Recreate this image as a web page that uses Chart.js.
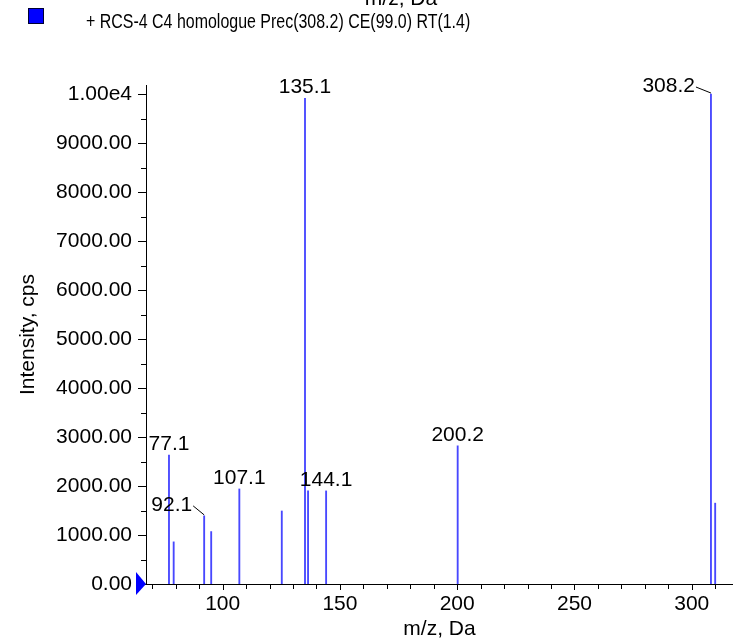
<!DOCTYPE html>
<html>
<head>
<meta charset="utf-8">
<script src="https://cdn.jsdelivr.net/npm/chart.js@4.4.1/dist/chart.umd.min.js"></script>
<style>
  html, body { margin: 0; padding: 0; background: #fff; }
  #wrap { width: 733px; height: 641px; }
</style>
</head>
<body>
<div id="wrap"><canvas id="spec" width="733" height="641"></canvas></div>
<script>
// ===== DATA =====
const mzValues = [77.1, 79.1, 92.1, 95.1, 107.1, 125.2, 135.1, 136.4, 144.1, 200.2, 308.2, 310.0];
const intensities = [2630, 860, 1390, 1070, 1940, 1490, 9910, 1900, 1900, 2820, 10000, 1650];
const labeledPeaks = [77.1, 92.1, 107.1, 135.1, 144.1, 200.2, 308.2];
const xTickValues = [100, 150, 200, 250, 300];
const yTickValues = [0, 1000, 2000, 3000, 4000, 5000, 6000, 7000, 8000, 9000, 10000];
const seriesName = '+ RCS-4 C4 homologue Prec(308.2) CE(99.0) RT(1.4)';
const xTitle = 'm/z, Da';
const yTitle = 'Intensity, cps';

const FONT = '"Liberation Sans", Arial, sans-serif';
const FSIZE = 21;
const BLUE = '#0000ff';

// label placement tweaks (style only)
const labelShift = {
  '92.1': { dx: -12, dy: -5 },
  '308.2': { dx: -16, dy: -2 }
};

// ===== PLUGIN: minor ticks, peak labels, legend =====
const specDecor = {
  id: 'specDecor',
  afterDatasetsDraw(chart) {
    const { ctx, scales: { x, y }, chartArea } = chart;
    ctx.save();
    ctx.strokeStyle = '#000';
    ctx.lineWidth = 1;

    // y ticks (major 1000, minor 500)
    for (let v = 0; v <= 10000; v += 500) {
      const py = Math.round(y.getPixelForValue(v)) + 0.5;
      const len = v % 1000 === 0 ? 8 : 5;
      ctx.beginPath();
      ctx.moveTo(chartArea.left - len, py);
      ctx.lineTo(chartArea.left, py);
      ctx.stroke();
    }
    // x ticks (major 50, minor 10)
    for (let v = 70; v <= x.max; v += 10) {
      const px = Math.round(x.getPixelForValue(v)) + 0.5;
      const len = v % 50 === 0 ? 6 : 5;
      ctx.beginPath();
      ctx.moveTo(px, chartArea.bottom);
      ctx.lineTo(px, chartArea.bottom + len);
      ctx.stroke();
    }

    // peak labels
    ctx.fillStyle = '#000';
    ctx.font = FSIZE + 'px ' + FONT;
    labeledPeaks.forEach(mz => {
      const i = mzValues.indexOf(mz);
      const px = x.getPixelForValue(mz);
      const py = y.getPixelForValue(intensities[i]);
      const key = mz.toFixed(1);
      const s = labelShift[key];
      if (s) {
        ctx.textAlign = 'right';
        ctx.fillText(key, px + s.dx, py + s.dy);
        ctx.beginPath();
        ctx.moveTo(px + s.dx + 1, py + s.dy - 5);
        ctx.lineTo(px, py - 1);
        ctx.stroke();
      } else {
        ctx.textAlign = 'center';
        ctx.fillText(key, px, py - 5);
      }
    });

    // blue marker at origin
    const y0 = y.getPixelForValue(0);
    ctx.fillStyle = BLUE;
    ctx.beginPath();
    ctx.moveTo(chartArea.left - 10, y0 - 12);
    ctx.lineTo(chartArea.left, y0);
    ctx.lineTo(chartArea.left - 10, y0 + 11);
    ctx.closePath();
    ctx.fill();

    // legend (condensed text)
    ctx.fillStyle = BLUE;
    ctx.fillRect(28, 8, 16, 16);
    ctx.strokeStyle = '#000033';
    ctx.strokeRect(28.5, 8.5, 15, 15);
    ctx.fillStyle = '#000';
    ctx.textAlign = 'left';
    ctx.save();
    ctx.translate(86, 28);
    ctx.scale(0.76, 1);
    ctx.fillText(seriesName, 0, 0);
    ctx.restore();

    // clipped axis title of the panel above
    ctx.textAlign = 'center';
    ctx.fillText(xTitle, 401, 5);
    ctx.restore();
  }
};

// ===== CHART =====
new Chart(document.getElementById('spec'), {
  type: 'bar',
  data: {
    datasets: [{
      label: seriesName,
      data: mzValues.map((m, i) => ({ x: m, y: intensities[i] })),
      backgroundColor: '#4848ff',
      barThickness: 1.2,
      grouped: false
    }]
  },
  options: {
    responsive: false,
    animation: false,
    devicePixelRatio: 1,
    layout: { padding: { top: 85, right: 0, bottom: 0, left: 0 } },
    plugins: { legend: { display: false }, tooltip: { enabled: false } },
    scales: {
      x: {
        type: 'linear',
        offset: false,
        min: 67.3,
        max: 317.6,
        grid: { display: false, drawTicks: false },
        border: { display: true, color: '#000', width: 1 },
        afterFit: s => { s.height = 57; },
        afterBuildTicks: s => { s.ticks = xTickValues.map(v => ({ value: v })); },
        ticks: { color: '#000', padding: 8, maxRotation: 0, autoSkip: false, font: { family: FONT, size: FSIZE } },
        title: { display: true, text: xTitle, color: '#000', padding: { top: 0, bottom: -1 }, font: { family: FONT, size: FSIZE } }
      },
      y: {
        min: 0,
        max: 10184,
        grid: { display: false, drawTicks: false },
        border: { display: true, color: '#000', width: 1 },
        afterFit: s => { s.width = 146; },
        afterBuildTicks: s => { s.ticks = yTickValues.map(v => ({ value: v })); },
        ticks: {
          color: '#000',
          padding: 14,
          autoSkip: false,
          font: { family: FONT, size: FSIZE },
          callback: v => v === 10000 ? '1.00e4' : v.toFixed(2)
        },
        title: { display: true, text: yTitle, color: '#000', padding: { top: 16, bottom: 0 }, font: { family: FONT, size: FSIZE } }
      }
    }
  },
  plugins: [specDecor]
});
</script>
</body>
</html>
